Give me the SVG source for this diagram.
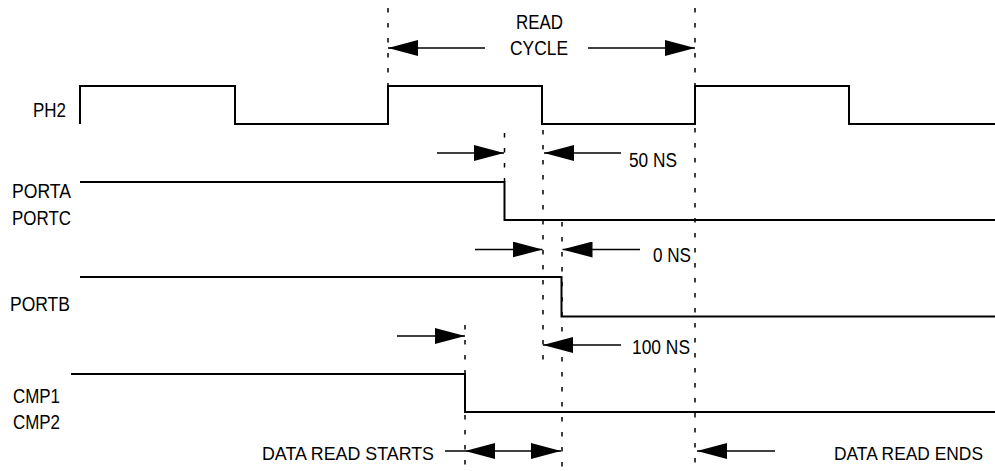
<svg xmlns="http://www.w3.org/2000/svg" width="995" height="471" viewBox="0 0 995 471">
<style>
  text { font-family: "Liberation Sans", Arial, sans-serif; font-size: 20px; fill: #000; }
  .small { font-size: 19px; }
  .smaller { font-size: 18px; }
  .wave { fill: none; stroke: #000; stroke-width: 2; }
  .dash { fill: none; stroke: #000; stroke-width: 1.5; stroke-dasharray: 4.5 10.5; }
  .arr { fill: none; stroke: #000; stroke-width: 1.5; }
  .arrh { fill: none; stroke: #000; stroke-width: 1.5; marker-end: url(#head); }
  .arr2 { fill: none; stroke: #000; stroke-width: 1.5; marker-start: url(#head); marker-end: url(#head); }
</style>
<defs>
  <marker id="head" viewBox="0 0 30 16" refX="30" refY="8" markerWidth="30" markerHeight="16" markerUnits="userSpaceOnUse" orient="auto-start-reverse">
    <path d="M0,0 L30,8 L0,16 Z" fill="#000"/>
  </marker>
</defs>
<rect width="995" height="471" fill="#fff"/>

<g id="labels">
  <text x="33" y="117" textLength="33" lengthAdjust="spacingAndGlyphs">PH2</text>
  <text x="12" y="198" textLength="59" lengthAdjust="spacingAndGlyphs">PORTA</text>
  <text x="12" y="225" textLength="59" lengthAdjust="spacingAndGlyphs">PORTC</text>
  <text x="10" y="311" textLength="60" lengthAdjust="spacingAndGlyphs">PORTB</text>
  <text x="13" y="403" textLength="47" lengthAdjust="spacingAndGlyphs">CMP1</text>
  <text x="13" y="429" textLength="47" lengthAdjust="spacingAndGlyphs">CMP2</text>
</g>

<g id="ph2">
  <path class="wave" d="M80,124 V86 H235 V124 H388 V86 H542 V124 H695 V86 H849 V124 H995"/>
</g>
<g id="porta">
  <path class="wave" d="M80,182 H504.5 V220 H995"/>
</g>
<g id="portb">
  <path class="wave" d="M80,277 H561.5 V316.5 H995"/>
</g>
<g id="cmp">
  <path class="wave" d="M71,374 H465 V412 H995"/>
</g>

<g id="guides">
  <line class="dash" x1="388" y1="8" x2="388" y2="86"/>
  <line class="dash" x1="695" y1="8" x2="695" y2="471"/>
  <line class="dash" x1="504.5" y1="133" x2="504.5" y2="182"/>
  <line class="dash" x1="543" y1="130" x2="543" y2="367"/>
  <line class="dash" x1="562" y1="222" x2="562" y2="471"/>
  <line class="dash" x1="465" y1="325" x2="465" y2="471"/>
</g>

<g id="read-cycle">
  <text x="516" y="29" textLength="47" lengthAdjust="spacingAndGlyphs">READ</text>
  <text x="510" y="55" textLength="58" lengthAdjust="spacingAndGlyphs">CYCLE</text>
</g>

<g id="timing-labels">
  <text x="629" y="167" textLength="48" lengthAdjust="spacingAndGlyphs">50 NS</text>
  <text x="653" y="262" textLength="38" lengthAdjust="spacingAndGlyphs">0 NS</text>
  <text x="632" y="354" textLength="58" lengthAdjust="spacingAndGlyphs">100 NS</text>
  <text class="small" x="262" y="460" textLength="172" lengthAdjust="spacingAndGlyphs">DATA READ STARTS</text>
  <text class="smaller" x="834" y="460" textLength="149" lengthAdjust="spacingAndGlyphs">DATA READ ENDS</text>
</g>

<g id="connectors">
  <line class="arrh" x1="485" y1="48" x2="388" y2="48"/>
  <line class="arrh" x1="588" y1="48" x2="695" y2="48"/>
  <line class="arrh" x1="437" y1="153" x2="504" y2="153"/>
  <line class="arrh" x1="621" y1="153" x2="544" y2="153"/>
  <line class="arrh" x1="475" y1="249.5" x2="542.5" y2="249.5"/>
  <line class="arrh" x1="640" y1="249.5" x2="562.5" y2="249.5"/>
  <line class="arrh" x1="621" y1="345" x2="543" y2="345"/>
  <line class="arrh" x1="397" y1="336" x2="465" y2="336"/>
  <line class="arr" x1="445" y1="451" x2="465" y2="451"/>
  <line class="arr2" x1="465" y1="451" x2="561" y2="451"/>
  <line class="arrh" x1="775" y1="451" x2="697" y2="451"/>
</g>
</svg>
